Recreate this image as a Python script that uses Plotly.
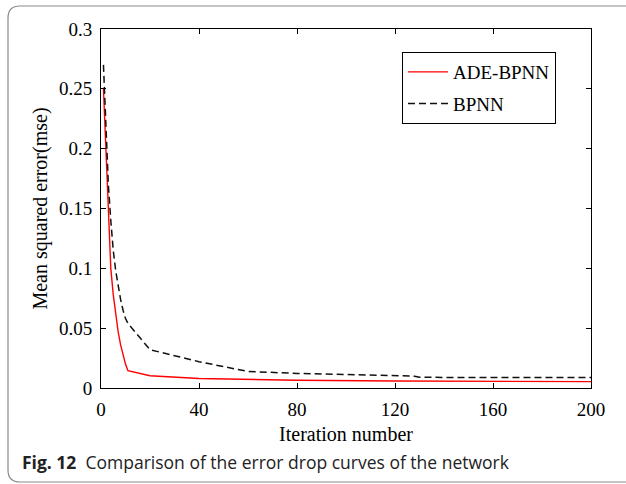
import plotly.graph_objects as go

# ---- data ----
ade_x = [1, 2, 3, 4, 5, 6, 7, 8, 9, 10, 11, 20, 40, 60, 80, 120, 160, 200]
ade_y = [0.25, 0.2, 0.145, 0.1, 0.078, 0.06, 0.047, 0.036, 0.027, 0.02, 0.0145,
         0.0102, 0.008, 0.007, 0.0065, 0.0058, 0.0055, 0.0053]
bp_x = [1, 2, 3, 4, 5, 6, 7, 8, 9, 10, 11, 20, 40, 60, 80, 100, 120, 128, 130, 200]
bp_y = [0.27, 0.213, 0.17, 0.14, 0.115, 0.098, 0.085, 0.074, 0.065, 0.058, 0.054,
        0.032, 0.022, 0.0138, 0.0122, 0.011, 0.0101, 0.0099, 0.0089, 0.0087]
x_ticks = [0, 40, 80, 120, 160, 200]
y_ticks = [0, 0.05, 0.1, 0.15, 0.2, 0.25, 0.3]
y_tick_text = ["0", "0.05", "0.1", "0.15", "0.2", "0.25", "0.3"]

W, H = 626, 484
def px(x):
    return x / W
def py(y):
    return 1 - y / H

serif = "Liberation Serif"

fig = go.Figure()
fig.add_trace(go.Scatter(x=ade_x, y=ade_y, mode="lines", name="ADE-BPNN", legendgroup="a",
                         line=dict(color="#ff0000", width=1.4)))
fig.add_trace(go.Scatter(x=bp_x, y=bp_y, mode="lines", name="BPNN", legendgroup="b",
                         line=dict(color="#111111", width=1.5, dash="7px,4px")))

axis_common = dict(showgrid=False, zeroline=False, showline=True, linecolor="black",
                   linewidth=1, mirror="ticks", ticks="inside", ticklen=5,
                   tickcolor="black", automargin=False,
                   tickfont=dict(family=serif, size=19, color="black"))

fig.update_layout(
    width=W, height=H,
    margin=dict(l=0, r=0, t=0, b=0, pad=0, autoexpand=False),
    paper_bgcolor="white", plot_bgcolor="white",
    xaxis=dict(domain=[px(101), px(591)], range=[0, 200], tickvals=x_ticks,
               ticklabelstandoff=4,
               title=dict(text="Iteration number", font=dict(family=serif, size=20, color="black"),
                          standoff=8),
               **axis_common),
    yaxis=dict(domain=[py(388), py(29)], range=[0, 0.3], tickvals=y_ticks,
               ticktext=y_tick_text, ticklabelstandoff=4,
               title=dict(text="Mean squared error(mse)", font=dict(family=serif, size=20, color="black"),
                          standoff=5),
               **axis_common),
    showlegend=True,
    legend=dict(x=px(402), y=py(52), xanchor="left", yanchor="top",
                bordercolor="black", borderwidth=1, bgcolor="white",
                font=dict(family=serif, size=19, color="black"),
                traceorder="grouped", tracegroupgap=4, itemwidth=40),
    shapes=[dict(type="path", xref="paper", yref="paper",
                 path=(f"M {px(630)},{py(6)} L {px(20)},{py(6)} "
                       f"Q {px(8)},{py(6)} {px(8)},{py(18)} "
                       f"L {px(8)},{py(470)} Q {px(8)},{py(482)} {px(20)},{py(482)} "
                       f"L {px(630)},{py(482)}"),
                 line=dict(color="#8a8a8a", width=1.2))],
    annotations=[dict(text="<b>Fig. 12</b>  Comparison of the error drop curves of the network",
                      xref="paper", yref="paper", x=px(20), y=py(462),
                      xanchor="left", yanchor="middle", showarrow=False,
                      font=dict(family="Open Sans", size=17.5, color="#222222"))],
)

fig.write_html("out.html")
